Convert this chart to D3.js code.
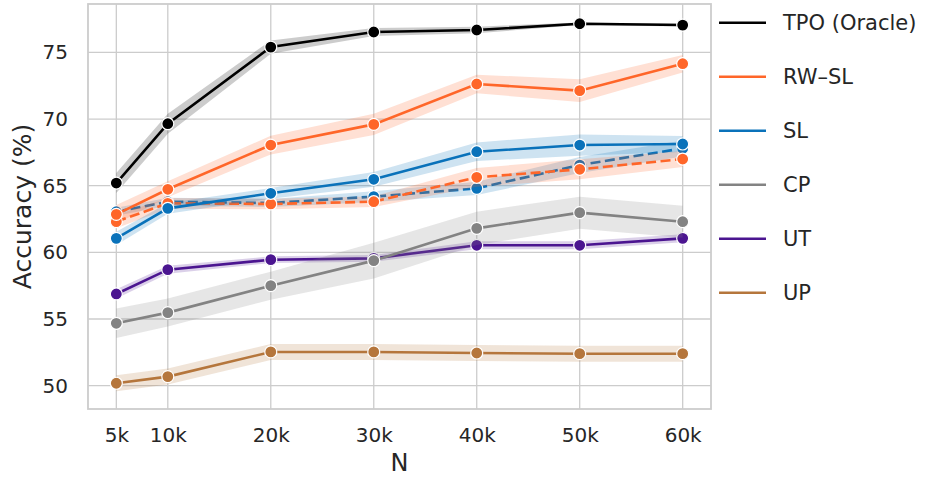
<!DOCTYPE html>
<html>
<head>
<meta charset="utf-8">
<script src="https://cdn.jsdelivr.net/npm/d3@7"></script>
<style>
  body { margin: 0; background: #fff; }
  svg text { font-family: "DejaVu Sans", sans-serif; }
</style>
</head>
<body>
<svg id="chart" width="940" height="478"></svg>
<script>
// x values (thousands of samples) and their labels
var N = [5, 10, 20, 30, 40, 50, 60];
var tickLabels = ["5k", "10k", "20k", "30k", "40k", "50k", "60k"];
var yTicks = [50, 55, 60, 65, 70, 75];

// mean accuracy and half-width of the shaded band
var tpo = [65.2, 69.65, 75.4, 76.53, 76.68, 77.15, 77.05];
var tpoErr = [0.75, 0.75, 0.5, 0.3, 0.25, 0.1, 0.1];
var rwsl = [62.85, 64.73, 68.05, 69.6, 72.63, 72.13, 74.15];
var rwslErr = [0.7, 0.6, 0.7, 0.8, 0.7, 0.85, 0.65];
var sl = [61.05, 63.3, 64.43, 65.48, 67.55, 68.05, 68.13];
var slErr = [0.5, 0.4, 0.4, 0.55, 0.7, 0.8, 0.6];
var slDash = [63.05, 63.8, 63.7, 64.18, 64.8, 66.55, 67.8];
var slDashErr = [0.3, 0.3, 0.3, 0.4, 0.5, 0.6, 0.6];
var rwslDash = [62.3, 63.68, 63.63, 63.8, 65.63, 66.23, 67.0];
var rwslDashErr = [0.5, 0.4, 0.4, 0.4, 0.7, 0.75, 0.6];
var cp = [54.68, 55.48, 57.5, 59.38, 61.8, 62.98, 62.3];
var cpErr = [1.1, 1.05, 1.05, 1.35, 1.25, 1.2, 1.2];
var ut = [56.88, 58.7, 59.45, 59.55, 60.53, 60.53, 61.05];
var utErr = [0.35, 0.3, 0.25, 0.25, 0.3, 0.3, 0.3];
var up = [50.18, 50.68, 52.53, 52.53, 52.45, 52.4, 52.4];
var upErr = [0.6, 0.6, 0.6, 0.6, 0.6, 0.6, 0.6];

var legendNames = ["TPO (Oracle)", "RW\u2013SL", "SL", "CP", "UT", "UP"];
var legendColors = ["#000000", "#ff6629", "#0a72ba", "#838383", "#4b1590", "#b5763c"];

// draw order (later ones on top)
var series = [
  { vals: up, err: upErr, color: "#b5763c", dash: null },
  { vals: ut, err: utErr, color: "#4b1590", dash: null },
  { vals: cp, err: cpErr, color: "#838383", dash: null },
  { vals: slDash, err: slDashErr, color: "#0a72ba", dash: "10,4.5" },
  { vals: rwslDash, err: rwslDashErr, color: "#ff6629", dash: "10,4.5" },
  { vals: sl, err: slErr, color: "#0a72ba", dash: null },
  { vals: rwsl, err: rwslErr, color: "#ff6629", dash: null },
  { vals: tpo, err: tpoErr, color: "#000000", dash: null }
];

var pLeft = 88, pRight = 711, pTop = 4, pBottom = 409;

var svg = d3.select("#chart");

var x = d3.scaleLinear().domain([2.25, 62.75]).range([pLeft, pRight]);
var y = d3.scaleLinear().domain([48.25, 78.63]).range([pBottom, pTop]);

// grid
var grid = svg.append("g");
grid.selectAll(".gx").data(N).join("line")
  .attr("x1", d => x(d)).attr("x2", d => x(d))
  .attr("y1", pTop).attr("y2", pBottom)
  .attr("stroke", "#cccccc").attr("stroke-width", 1.3);
grid.selectAll(".gy").data(yTicks).join("line")
  .attr("x1", pLeft).attr("x2", pRight)
  .attr("y1", d => y(d)).attr("y2", d => y(d))
  .attr("stroke", "#cccccc").attr("stroke-width", 1.3);

// axes with labels only
var xAxis = svg.append("g")
  .attr("transform", `translate(0, ${pBottom})`)
  .call(d3.axisBottom(x).tickValues(N).tickFormat((d, i) => tickLabels[i]).tickSize(0).tickPadding(19));
var yAxis = svg.append("g")
  .attr("transform", `translate(${pLeft}, 0)`)
  .call(d3.axisLeft(y).tickValues(yTicks).tickSize(0).tickPadding(20));
[xAxis, yAxis].forEach(function (g) {
  g.attr("font-family", "DejaVu Sans").attr("font-size", 20);
  g.select(".domain").remove();
  g.selectAll("text").attr("fill", "#262626");
});

// frame
svg.append("rect")
  .attr("x", pLeft).attr("y", pTop)
  .attr("width", pRight - pLeft).attr("height", pBottom - pTop)
  .attr("fill", "none").attr("stroke", "#cccccc").attr("stroke-width", 1.8);

var band = d3.area()
  .x((d, i) => x(N[i]))
  .y0(d => y(d[0]))
  .y1(d => y(d[1]));
var line = d3.line()
  .x((d, i) => x(N[i]))
  .y(d => y(d));

series.forEach(function (s) {
  var g = svg.append("g");
  g.append("path")
    .datum(s.vals.map((v, i) => [v - s.err[i], v + s.err[i]]))
    .attr("d", band)
    .attr("fill", s.color).attr("fill-opacity", 0.2);
  g.append("path")
    .datum(s.vals)
    .attr("d", line)
    .attr("fill", "none")
    .attr("stroke", s.color).attr("stroke-width", 2.6)
    .attr("stroke-dasharray", s.dash);
  g.selectAll("circle").data(s.vals).join("circle")
    .attr("cx", (d, i) => x(N[i]))
    .attr("cy", d => y(d))
    .attr("r", 6)
    .attr("fill", s.color)
    .attr("stroke", "#ffffff").attr("stroke-width", 1.2);
});

// axis titles
svg.append("text")
  .attr("x", (pLeft + pRight) / 2).attr("y", 471)
  .attr("text-anchor", "middle")
  .style("font-size", "24px").attr("fill", "#262626")
  .text("N");
svg.append("text")
  .attr("transform", `translate(31, ${(pTop + pBottom) / 2}) rotate(-90)`)
  .attr("text-anchor", "middle")
  .style("font-size", "25px").attr("fill", "#262626")
  .text("Accuracy (%)");

// legend
var legend = svg.append("g");
legendNames.forEach(function (name, i) {
  var ly = 22.7 + i * 54;
  legend.append("line")
    .attr("x1", 719).attr("x2", 766)
    .attr("y1", ly).attr("y2", ly)
    .attr("stroke", legendColors[i]).attr("stroke-width", 2.6);
  legend.append("text")
    .attr("x", 783).attr("y", ly)
    .attr("dy", "0.36em")
    .style("font-size", "21px").attr("fill", "#262626")
    .text(name);
});
</script>
</body>
</html>
